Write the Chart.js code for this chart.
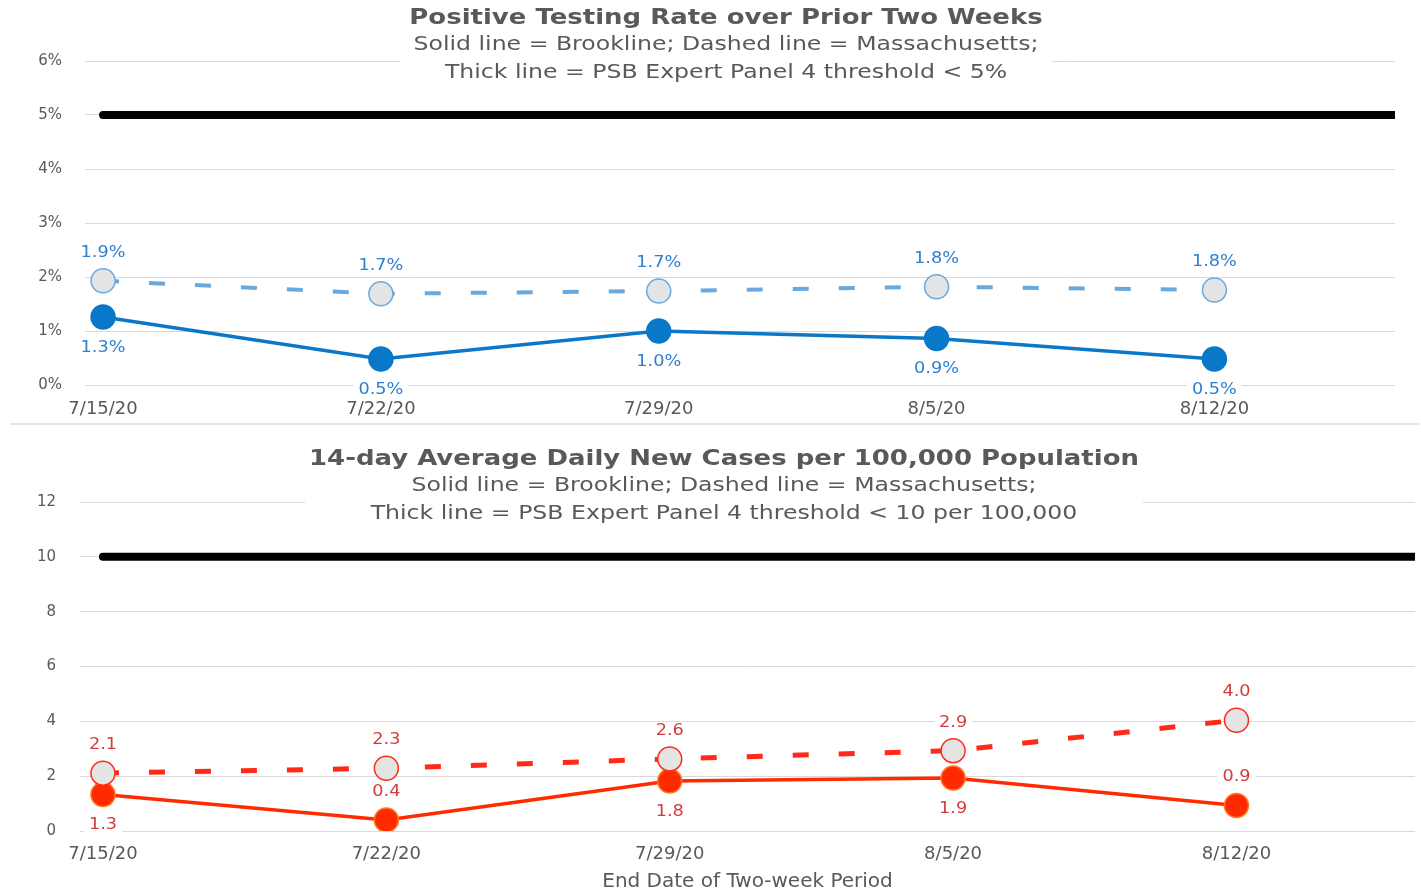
<!DOCTYPE html>
<html>
<head>
<meta charset="utf-8">
<script src="https://cdn.jsdelivr.net/npm/chart.js@4"></script>
<style>
  body { margin: 0; background: #fff; overflow: hidden; }
  #arriba { position: absolute; left: 0; top: 0; width: 1421px; height: 422px; overflow: hidden; }
  #separador { position: absolute; left: 10px; top: 423px; width: 1410px; height: 2px; background: #e6e6e6; }
  #abajo { position: absolute; left: 0; top: 428px; width: 1421px; height: 465px; overflow: hidden; }
</style>
</head>
<body>
<div id="arriba"><canvas id="graficaTasa" width="1421" height="422"></canvas></div>
<div id="separador"></div>
<div id="abajo"><canvas id="graficaCasos" width="1429" height="465"></canvas></div>
<script>
// Datos
var fechas = ['7/15/20', '7/22/20', '7/29/20', '8/5/20', '8/12/20'];
var tasaMassachusetts = [1.93, 1.69, 1.74, 1.82, 1.76];
var tasaBrookline = [1.26, 0.48, 1.0, 0.86, 0.48];
var umbralTasa = 5;
var ticksTasa = [0, 1, 2, 3, 4, 5, 6];

var casosMassachusetts = [2.11, 2.29, 2.63, 2.93, 4.04];
var casosBrookline = [1.33, 0.40, 1.82, 1.93, 0.93];
var umbralCasos = 10;
var ticksCasos = [0, 2, 4, 6, 8, 10, 12];

var fuente = '"DejaVu Sans", sans-serif';
var gris = '#595959';
var estirar = 1.18; // el texto del original esta algo ensanchado

// texto ensanchado horizontalmente
function textoAncho(ctx, texto, x, y) {
    ctx.save();
    ctx.translate(x, y);
    ctx.scale(estirar, 1);
    ctx.fillText(texto, 0, 0);
    ctx.restore();
}

// Titulo con fondo blanco encima del area de la grafica
var pluginTitulo = {
    id: 'tituloCaja',
    afterDraw: function(chart, args, opts) {
        var ctx = chart.ctx;
        ctx.save();
        ctx.fillStyle = '#fff';
        ctx.fillRect(opts.caja[0], opts.caja[1], opts.caja[2], opts.caja[3]);
        ctx.textAlign = 'center';
        ctx.textBaseline = 'middle';
        ctx.fillStyle = gris;
        opts.lineas.forEach(function(l, i) {
            ctx.font = (i === 0 ? 'bold 22px ' : '20px ') + fuente;
            textoAncho(ctx, l, opts.centro, opts.ys[i]);
        });
        ctx.restore();
    }
};

// Etiquetas de datos con fondo blanco
var pluginEtiquetas = {
    id: 'etiquetas',
    afterDatasetsDraw: function(chart) {
        var ctx = chart.ctx;
        ctx.save();
        ctx.font = '15px ' + fuente;
        ctx.textAlign = 'center';
        ctx.textBaseline = 'middle';
        chart.data.datasets.forEach(function(ds, i) {
            if (!ds.posEtiqueta) return;
            var meta = chart.getDatasetMeta(i);
            meta.data.forEach(function(p, j) {
                var texto = ds.formato(ds.data[j].y);
                var dy = ds.posEtiqueta[j] === 'arriba' ? -28 : 31;
                var w = ctx.measureText(texto).width * estirar + 10;
                ctx.fillStyle = '#fff';
                ctx.fillRect(p.x - w / 2, p.y + dy - 9, w, 18);
                ctx.fillStyle = ds.colorEtiqueta;
                textoAncho(ctx, texto, p.x, p.y + dy);
            });
        });
        ctx.restore();
    }
};

function puntos(valores) {
    return valores.map(function(v, i) { return { x: i, y: v }; });
}

function crearGrafica(id, cfg) {
    var ctx = document.getElementById(id).getContext('2d');
    return new Chart(ctx, {
        type: 'line',
        data: {
            datasets: [{
                data: [{ x: 0, y: cfg.umbral }, { x: cfg.xMax, y: cfg.umbral }],
                borderColor: '#000',
                borderWidth: 8,
                borderCapStyle: 'round',
                pointRadius: 0,
                clip: 0
            }, {
                data: puntos(cfg.masa),
                borderColor: cfg.colorMasa,
                borderWidth: cfg.anchoMasa,
                borderCapStyle: 'butt',
                borderDash: [16, 30],
                pointRadius: 12,
                pointBackgroundColor: '#e4e4e4',
                pointBorderColor: cfg.colorMasa,
                pointBorderWidth: 1.5,
                posEtiqueta: ['arriba', 'arriba', 'arriba', 'arriba', 'arriba'],
                colorEtiqueta: cfg.colorEtiqueta,
                formato: cfg.formato
            }, {
                data: puntos(cfg.brook),
                borderColor: cfg.colorBrook,
                borderWidth: 3.5,
                pointRadius: 12,
                pointBackgroundColor: cfg.colorBrook,
                pointBorderColor: cfg.bordePuntoBrook,
                pointBorderWidth: 1.5,
                posEtiqueta: cfg.posBrook,
                colorEtiqueta: cfg.colorEtiqueta,
                formato: cfg.formato
            }]
        },
        options: {
            responsive: false,
            animation: false,
            events: [],
            layout: { padding: { top: cfg.arriba, right: cfg.derecha, left: 0, bottom: 0 } },
            plugins: {
                legend: { display: false },
                tooltip: { enabled: false },
                tituloCaja: cfg.titulo
            },
            scales: {
                x: {
                    type: 'linear',
                    min: cfg.xMin,
                    max: cfg.xMax,
                    grid: { display: false },
                    border: { display: false },
                    afterBuildTicks: function(s) {
                        s.ticks = fechas.map(function(f, i) { return { value: i }; });
                    },
                    afterFit: function(s) { s.height = cfg.altoX; },
                    ticks: {
                        padding: cfg.paddingX,
                        color: gris,
                        font: { family: fuente, size: 18 },
                        callback: function(v) { return fechas[v]; }
                    },
                    title: {
                        display: !!cfg.tituloX,
                        text: cfg.tituloX || '',
                        color: gris,
                        font: { family: fuente, size: 20 },
                        padding: { top: 0, bottom: -1 }
                    }
                },
                y: {
                    min: cfg.yTicks[0],
                    max: cfg.yTicks[cfg.yTicks.length - 1],
                    afterBuildTicks: function(s) {
                        s.ticks = cfg.yTicks.map(function(v) { return { value: v }; });
                    },
                    afterFit: function(s) { s.width = cfg.anchoY; },
                    grid: { color: '#d9d9d9', lineWidth: 1, drawTicks: false },
                    border: { display: false },
                    ticks: {
                        padding: cfg.paddingY,
                        color: gris,
                        font: { family: fuente, size: 15 },
                        callback: cfg.formatoY
                    }
                }
            }
        },
        plugins: [pluginTitulo, pluginEtiquetas]
    });
}

crearGrafica('graficaTasa', {
    umbral: umbralTasa,
    masa: tasaMassachusetts,
    brook: tasaBrookline,
    colorMasa: '#6aa9de',
    anchoMasa: 4,
    colorBrook: '#0a78c8',
    bordePuntoBrook: '#0a78c8',
    colorEtiqueta: '#2f7fd0',
    posBrook: ['abajo', 'abajo', 'abajo', 'abajo', 'abajo'],
    formato: function(v) { return v.toFixed(1) + '%'; },
    formatoY: function(v) { return v + '%'; },
    yTicks: ticksTasa,
    xMin: -0.065,
    xMax: 4.65,
    arriba: 61,
    derecha: 26,
    altoX: 37,
    paddingX: 6,
    anchoY: 85,
    paddingY: 23,
    titulo: {
        caja: [400, 0, 652, 88],
        centro: 726,
        ys: [18, 45, 73],
        lineas: ['Positive Testing Rate over Prior Two Weeks',
                 'Solid line = Brookline; Dashed line = Massachusetts;',
                 'Thick line = PSB Expert Panel 4 threshold < 5%']
    }
});

crearGrafica('graficaCasos', {
    umbral: umbralCasos,
    masa: casosMassachusetts,
    brook: casosBrookline,
    colorMasa: '#ff2a1a',
    anchoMasa: 5,
    colorBrook: '#ff2a00',
    bordePuntoBrook: '#ff7a20',
    colorEtiqueta: '#d43c3c',
    posBrook: ['abajo', 'arriba', 'abajo', 'abajo', 'arriba'],
    formato: function(v) { return v.toFixed(1); },
    formatoY: function(v) { return v; },
    yTicks: ticksCasos,
    xMin: -0.081,
    xMax: 4.63,
    arriba: 74,
    derecha: 14,
    altoX: 62,
    paddingX: 5,
    anchoY: 80,
    paddingY: 24,
    tituloX: 'End Date of Two-week Period',
    titulo: {
        caja: [305, 0, 838, 90],
        centro: 724,
        ys: [31, 58, 86],
        lineas: ['14-day Average Daily New Cases per 100,000 Population',
                 'Solid line = Brookline; Dashed line = Massachusetts;',
                 'Thick line = PSB Expert Panel 4 threshold < 10 per 100,000']
    }
});
</script>
</body>
</html>
